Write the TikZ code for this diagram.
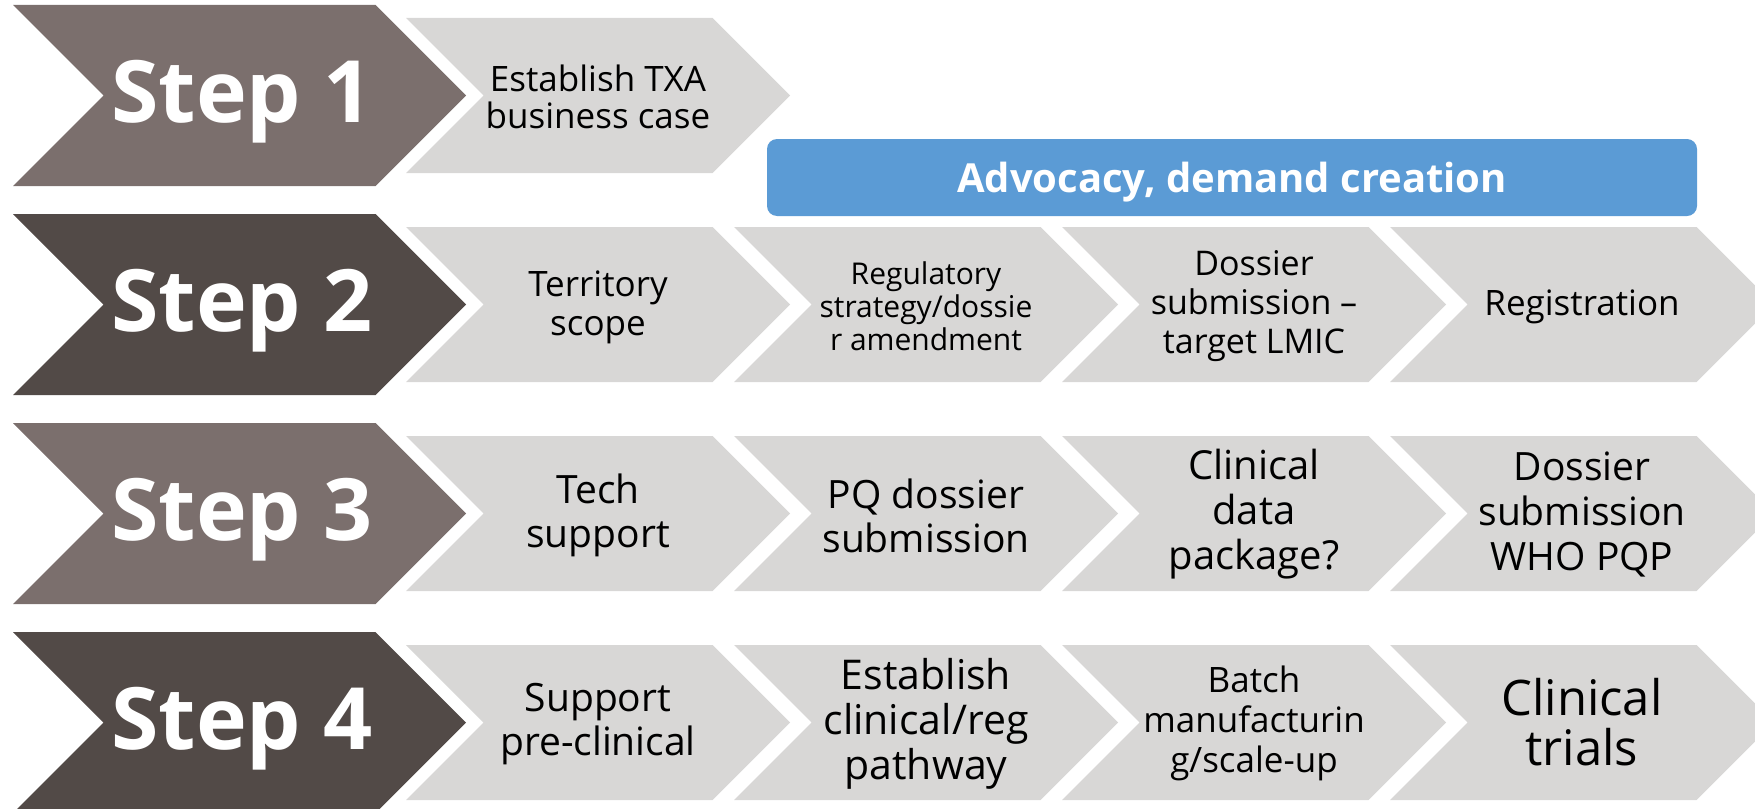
\documentclass[tikz,border=0pt]{standalone}
\usepackage{fontspec}
\setmainfont{Open Sans}
\definecolor{steplight}{HTML}{7B6F6D}
\definecolor{stepdark}{HTML}{524A47}
\definecolor{boxgray}{HTML}{D8D7D6}
\definecolor{advblue}{HTML}{5B9BD5}
\newcommand{\chevshape}[5]{%
  \pgfmathsetmacro\hh{#4/2}%
  \fill[#5] (#1,#2-\hh) -- (#1+#3-\hh,#2-\hh) -- (#1+#3,#2) -- (#1+#3-\hh,#2+\hh) -- (#1,#2+\hh) -- (#1+\hh,#2) -- cycle;}
\newcommand{\fs}[2]{\fontsize{#1pt}{#2pt}\selectfont}
\begin{document}
\begin{tikzpicture}[x=1pt,y=-1pt,
  steptxt/.style={text=white,font=\bfseries\fs{86}{90},inner sep=0pt},
  boxtxt/.style={text=black,align=center,inner sep=0pt},
  advbox/.style={fill=advblue,rounded corners=10pt,minimum width=930pt,minimum height=77pt,inner sep=0pt},
  advtxt/.style={text=white,font=\bfseries\fs{40}{42},inner sep=0pt}]
\useasboundingbox (0,0) rectangle (1755,808);
\clip (0,0) rectangle (1755,808);
% step chevrons
\chevshape{13}{95.5}{453}{181}{steplight}
\chevshape{13}{304.5}{453}{181}{stepdark}
\chevshape{13}{513.5}{453}{181}{steplight}
\chevshape{13}{722.5}{453}{181}{stepdark}
\node[steptxt] (s1) at (242,101.5) {Step 1};
\node[steptxt] (s2) at (242,310.5) {Step 2};
\node[steptxt] (s3) at (242,519.5) {Step 3};
\node[steptxt] (s4) at (242,728.5) {Step 4};
% row 1
\chevshape{406}{95.5}{384}{155}{boxgray}
\node[boxtxt,font=\fs{35}{37}] (b11) at (598,96.5) {Establish TXA\\business case};
% advocacy
\node[advbox] (adv) at (1232,177.5) {};
\node[advtxt] (advt) at ([yshift=-5pt]adv.center) {Advocacy, demand creation};
% row 2
\foreach \xx in {406,734,1062,1390} {\chevshape{\xx}{304.5}{384}{155}{boxgray}}
\node[boxtxt,font=\fs{35}{39}] (b21) at (598,307.5) {Territory\\scope};
\node[boxtxt,font=\fs{30}{33}] (b22) at (926,306.5) {Regulatory\\strategy/dossie\\r amendment};
\node[boxtxt,font=\fs{34}{39}] (b23) at (1254,306.5) {Dossier\\submission –\\target LMIC};
\node[boxtxt,font=\fs{35}{39}] (b24) at (1582,306.5) {Registration};
% row 3
\foreach \xx in {406,734,1062,1390} {\chevshape{\xx}{513.5}{384}{155}{boxgray}}
\node[boxtxt,font=\fs{39}{44}] (b31) at (598,515.5) {Tech\\support};
\node[boxtxt,font=\fs{39}{44}] (b32) at (926,515.5) {PQ dossier\\submission};
\node[boxtxt,font=\fs{40}{45}] (b33) at (1254,514.5) {Clinical\\data\\package?};
\node[boxtxt,font=\fs{39}{45}] (b34) at (1582,514.5) {Dossier\\submission\\WHO PQP};
% row 4
\foreach \xx in {406,734,1062,1390} {\chevshape{\xx}{722.5}{384}{155}{boxgray}}
\node[boxtxt,font=\fs{39}{44}] (b41) at (598,724.5) {Support\\pre-clinical};
\node[boxtxt,font=\fs{41}{45}] (b42) at (926,723.5) {Establish\\clinical/reg\\pathway};
\node[boxtxt,font=\fs{35}{40}] (b43) at (1254,723.5) {Batch\\manufacturin\\g/scale-up};
\node[boxtxt,font=\fs{49}{50}] (b44) at (1582,722.5) {Clinical\\trials};
\end{tikzpicture}
\end{document}
